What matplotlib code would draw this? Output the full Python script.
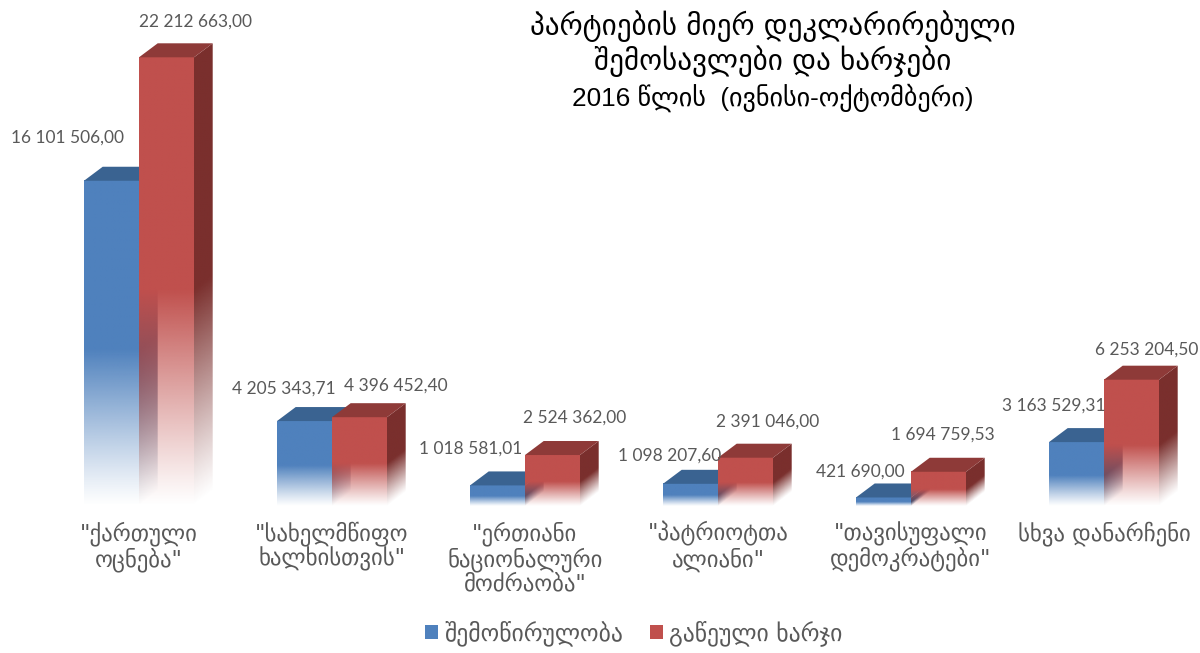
import numpy as np
import matplotlib
matplotlib.use("Agg")
import matplotlib.pyplot as plt
from matplotlib.patches import Polygon, Patch
from matplotlib.colors import to_rgb

categories = ['"ქართული\nოცნება"', '"სახელმწიფო\nხალხისთვის"', '"ერთიანი\nნაციონალური\nმოძრაობა"',
              '"პატრიოტთა\nალიანი"', '"თავისუფალი\nდემოკრატები"', 'სხვა დანარჩენი']
donations = [16101506.00, 4205343.71, 1018581.01, 1098207.60, 421690.00, 3163529.31]
expenses = [22212663.00, 4396452.40, 2524362.00, 2391046.00, 1694759.53, 6253204.50]
donation_labels = ['16 101 506,00', '4 205 343,71', '1 018 581,01', '1 098 207,60', '421 690,00', '3 163 529,31']
expense_labels = ['22 212 663,00', '4 396 452,40', '2 524 362,00', '2 391 046,00', '1 694 759,53', '6 253 204,50']
series_names = ['შემოწირულობა', 'გაწეული ხარჯი']
title_lines = ['პარტიების მიერ დეკლარირებული', 'შემოსავლები და ხარჯები', '2016 წლის  (ივნისი-ოქტომბერი)']

W, H = 1200, 653
BASE_PX = 506
PX_PER_UNIT = 20.2e-6
GROUP_PX = 193
BAR_PX = 55
DEPTH_X_PX, DEPTH_Y_PX = 18.7, 14
FIRST_CENTER_PX = 139
GREY = '#595959'

fig = plt.figure(figsize=(W / 100, H / 100), dpi=100)
ax = fig.add_axes([0, (H - BASE_PX) / H, 1, BASE_PX / H])
ax.set_axis_off()

xlim = (-FIRST_CENTER_PX / GROUP_PX, (W - FIRST_CENTER_PX) / GROUP_PX)
ylim = (0, BASE_PX / PX_PER_UNIT)
bar_w = BAR_PX / GROUP_PX
dx = DEPTH_X_PX / GROUP_PX
dy = DEPTH_Y_PX / PX_PER_UNIT


def fade(t):
    return np.clip(t / 0.48, 0, 1) ** 1.1


def bar3d(x0, h, front, top, side, z):
    # right side face: gradient follows height relative to the bar
    n_u, n_v = 24, 300
    ymax = h + dy
    u = np.linspace(0, 1, n_u)
    v = np.linspace(ymax, 0, n_v)
    U, V = np.meshgrid(u, v)
    a = fade((V - U * dy).clip(0) / h)
    img = np.zeros((n_v, n_u, 4))
    img[..., :3] = to_rgb(side)
    img[..., 3] = a
    im = ax.imshow(img, extent=(x0 + bar_w, x0 + bar_w + dx, 0, ymax), aspect='auto',
                   interpolation='bilinear', zorder=z)
    im.set_clip_path(Polygon([(x0 + bar_w, 0), (x0 + bar_w + dx, dy),
                              (x0 + bar_w + dx, ymax), (x0 + bar_w, h)], transform=ax.transData))
    # front face
    v = np.linspace(1, 0, n_v)[:, None]
    img = np.zeros((n_v, 1, 4))
    img[..., :3] = to_rgb(front)
    img[..., 3] = fade(v)
    ax.imshow(img, extent=(x0, x0 + bar_w, 0, h), aspect='auto',
              interpolation='bilinear', zorder=z + 0.1)
    # top face
    ax.add_patch(Polygon([(x0, h), (x0 + bar_w, h), (x0 + bar_w + dx, ymax), (x0 + dx, ymax)],
                         closed=True, fc=top, ec='none', zorder=z + 0.2))


label_font = ['Lato', 'DejaVu Sans']
donation_off = [(-44, 43), (-21, 32), (-27, 37), (-21, 28), (-23, 26), (-23, 36)]
expense_off = [(29, 36), (36, 32), (22, 37), (22, 36), (4, 37), (15, 30)]

for i in range(len(categories)):
    base_z = 2 + i * 2
    bar3d(i - bar_w, donations[i], '#4F81BD', '#3A6391', '#2E4D73', base_z)
    bar3d(i, expenses[i], '#C0504D', '#8E3A38', '#7A2F2D', base_z + 1)
    ax.annotate(donation_labels[i], (i - bar_w / 2, donations[i]),
                xytext=(donation_off[i][0] * 0.72, donation_off[i][1] * 0.72), textcoords='offset points',
                ha='center', va='center', fontsize=12.5, color=GREY, family=label_font, zorder=30)
    ax.annotate(expense_labels[i], (i + bar_w / 2, expenses[i]),
                xytext=(expense_off[i][0] * 0.72, expense_off[i][1] * 0.72), textcoords='offset points',
                ha='center', va='center', fontsize=12.5, color=GREY, family=label_font, zorder=30)
    ax.annotate(categories[i], (i, 0), xytext=(0, -11), textcoords='offset points',
                ha='center', va='top', fontsize=16.4, color=GREY, family='DejaVu Sans',
                linespacing=1.05, zorder=30)

ax.set_xlim(*xlim)
ax.set_ylim(*ylim)

fig.text(773 / W, 1 - 26 / H, title_lines[0], ha='center', va='center', fontsize=21, color='black', family='DejaVu Sans')
fig.text(773 / W, 1 - 61 / H, title_lines[1], ha='center', va='center', fontsize=21, color='black', family='DejaVu Sans')
fig.text(773 / W, 1 - 98 / H, title_lines[2], ha='center', va='center', fontsize=18.8,
         color='black', family=['Liberation Sans', 'DejaVu Sans'])

handles = [Patch(fc='#4F81BD', ec='none', label=series_names[0]),
           Patch(fc='#C0504D', ec='none', label=series_names[1])]
fig.legend(handles=handles, loc='center', bbox_to_anchor=(634 / W, 1 - 633 / H), ncol=2, frameon=False,
           labelcolor=GREY, handlelength=0.55, handleheight=0.55, handletextpad=0.25,
           columnspacing=1.15, prop={'family': 'DejaVu Sans', 'size': 17})

fig.savefig('out.png', dpi=100)
